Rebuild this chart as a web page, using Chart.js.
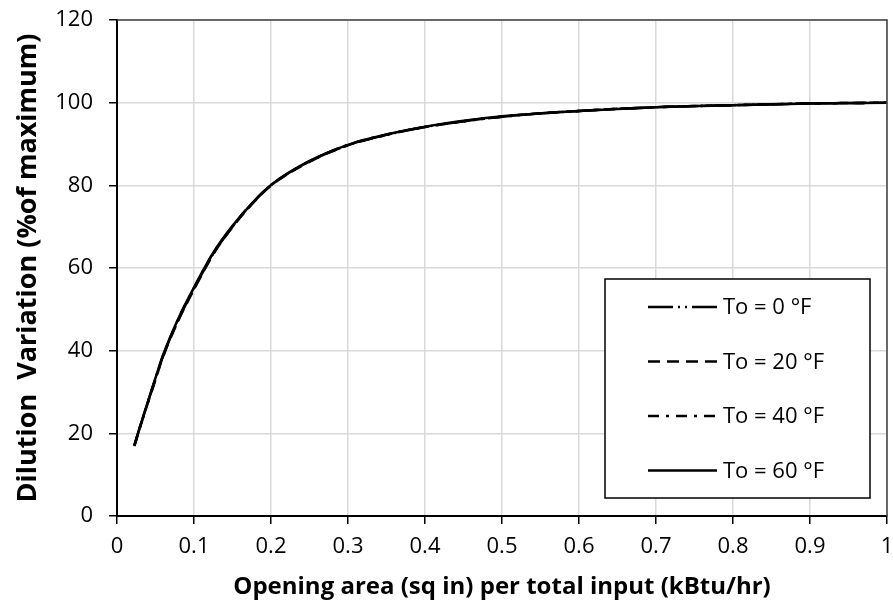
<!DOCTYPE html>
<html>
<head>
<meta charset="utf-8">
<script src="https://cdn.jsdelivr.net/npm/chart.js@4"></script>
<style>
  html, body { margin: 0; padding: 0; background: #fff; }
  #wrap { width: 893px; height: 606px; position: relative; }
</style>
</head>
<body>
<div id="wrap"><canvas id="chart" width="893" height="606"></canvas></div>
<script>
// opening area per input (x) and dilution variation (% of max) for each outdoor temperature
const xValues = [0.0225, 0.03, 0.04, 0.05, 0.06, 0.08, 0.1, 0.125, 0.15, 0.175, 0.2, 0.25, 0.3, 0.35, 0.4, 0.5, 0.6, 0.7, 0.8, 0.9, 1.0];
const to0  = [17.0, 21.6, 27.4, 33.2, 38.8, 47.6, 55.0, 63.4, 70.0, 75.5, 80.0, 85.8, 89.7, 92.2, 94.1, 96.6, 98.0, 98.9, 99.4, 99.8, 100.0];
const to20 = [16.9, 21.5, 27.3, 33.0, 38.6, 47.4, 54.8, 63.3, 69.9, 75.4, 79.9, 85.7, 89.7, 92.2, 94.1, 96.6, 98.0, 98.9, 99.4, 99.8, 100.0];
const to40 = [17.0, 21.6, 27.5, 33.3, 38.9, 47.8, 55.2, 63.6, 70.1, 75.6, 80.0, 85.8, 89.8, 92.3, 94.1, 96.6, 98.0, 98.9, 99.4, 99.8, 100.0];
const to60 = [17.1, 21.7, 27.6, 33.4, 39.0, 47.9, 55.3, 63.7, 70.2, 75.6, 80.1, 85.9, 89.8, 92.3, 94.2, 96.7, 98.0, 98.9, 99.4, 99.8, 100.0];

const seriesLabels = ['To = 0 °F', 'To = 20 °F', 'To = 40 °F', 'To = 60 °F'];
const seriesValues = [to0, to20, to40, to60];
const dashes = [[25, 5, 2, 5, 2, 5], [12, 7], [11, 7, 3, 7], []];

const FONT = '"Open Sans", Lato, sans-serif';

function toPoints(vals) {
    return xValues.map((x, i) => ({ x: x, y: vals[i] }));
}

// legend box drawn inside the plot area, like the original
const boxLegend = {
    id: 'boxLegend',
    afterDraw(chart) {
        const ctx = chart.ctx;
        const area = chart.chartArea;
        const left = area.right - 282, top = area.top + 259;
        const w = 265, h = 219;
        ctx.save();
        ctx.fillStyle = '#fff';
        ctx.fillRect(left, top, w, h);
        ctx.strokeStyle = '#000';
        ctx.lineWidth = 1.5;
        ctx.strokeRect(left, top, w, h);
        ctx.font = '22px ' + FONT;
        ctx.textBaseline = 'middle';
        ctx.fillStyle = '#000';
        chart.data.datasets.forEach((ds, i) => {
            const y = top + 28 + i * 54.5;
            ctx.beginPath();
            ctx.setLineDash(ds.borderDash);
            ctx.lineWidth = 2.5;
            ctx.moveTo(left + 43, y);
            ctx.lineTo(left + 112, y);
            ctx.stroke();
            ctx.setLineDash([]);
            ctx.fillText(ds.label, left + 118, y + 1);
        });
        // plot frame top and right
        ctx.strokeStyle = '#404040';
        ctx.lineWidth = 1.5;
        ctx.beginPath();
        ctx.moveTo(area.left, area.top);
        ctx.lineTo(area.right, area.top);
        ctx.lineTo(area.right, area.bottom);
        ctx.stroke();
        ctx.restore();
    }
};

const ctx = document.getElementById('chart').getContext('2d');
new Chart(ctx, {
    type: 'scatter',
    data: {
        datasets: seriesLabels.map((label, i) => ({
            label: label,
            data: toPoints(seriesValues[i]),
            showLine: true,
            borderColor: '#000',
            borderWidth: 2.5,
            borderDash: dashes[i],
            pointRadius: 0,
            cubicInterpolationMode: 'monotone'
        }))
    },
    options: {
        responsive: false,
        animation: false,
        layout: { padding: { top: 20, right: 6, left: 0, bottom: 0 } },
        plugins: {
            legend: { display: false },
            tooltip: { enabled: false }
        },
        scales: {
            x: {
                type: 'linear',
                min: 0,
                max: 1,
                afterFit: (s) => { s.height = 90; s.paddingLeft = 0; s.paddingRight = 0; },
                ticks: {
                    stepSize: 0.1,
                    color: '#000',
                    padding: 10,
                    maxRotation: 0,
                    callback: (v) => String(Math.round(v * 10) / 10),
                    font: { family: FONT, size: 22 }
                },
                grid: { color: '#d9d9d9', lineWidth: 1.5, tickLength: 8, tickColor: '#000', tickWidth: 1.5 },
                border: { color: '#000', width: 2 },
                title: {
                    display: true,
                    text: 'Opening area (sq in) per total input (kBtu/hr)',
                    color: '#000',
                    font: { family: FONT, size: 24, weight: 'bold' },
                    padding: { top: 4, bottom: 4 }
                }
            },
            y: {
                min: 0,
                max: 120,
                afterFit: (s) => { s.width = 117; s.paddingTop = 0; s.paddingBottom = 0; },
                ticks: {
                    stepSize: 20,
                    color: '#000',
                    padding: 16,
                    font: { family: FONT, size: 22 }
                },
                grid: { color: '#d9d9d9', lineWidth: 1.5, tickLength: 8, tickColor: '#000', tickWidth: 1.5 },
                border: { color: '#000', width: 2 },
                title: {
                    display: true,
                    text: 'Dilution  Variation (%of maximum)',
                    color: '#000',
                    font: { family: FONT, size: 27, weight: 'bold' },
                    padding: { top: 12, bottom: 4 }
                }
            }
        }
    },
    plugins: [boxLegend]
});
</script>
</body>
</html>
